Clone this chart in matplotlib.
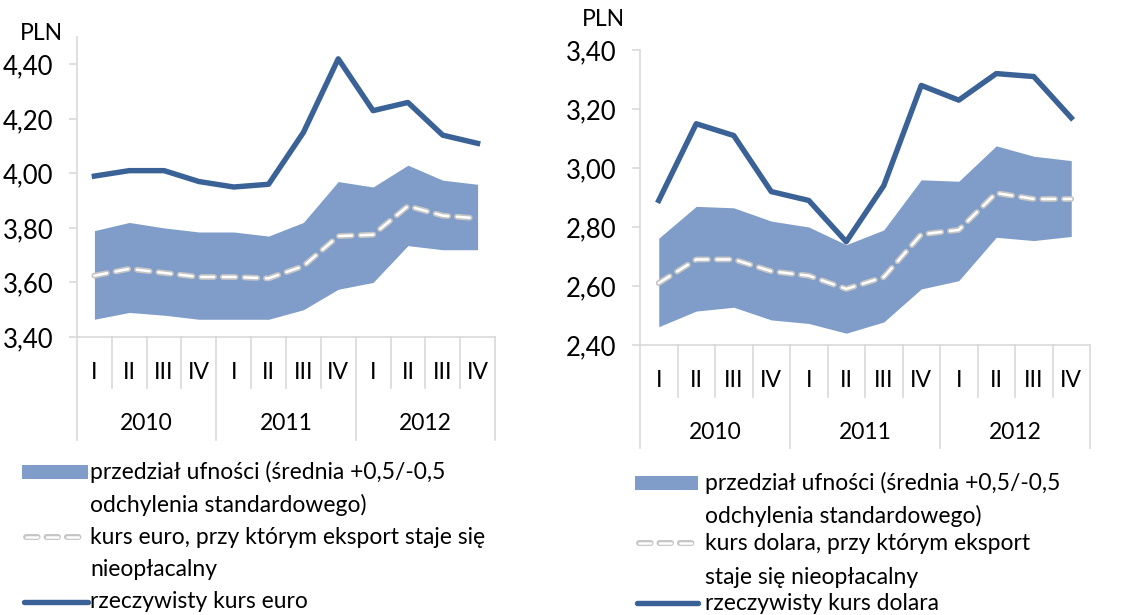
import numpy as np
import matplotlib.pyplot as plt
from matplotlib.patches import Rectangle
from matplotlib.lines import Line2D

plt.rcParams['font.family'] = ['Lato', 'DejaVu Sans']

quarters = ['I', 'II', 'III', 'IV'] * 3
years = ['2010', '2011', '2012']

# euro
eur_actual = [3.99, 4.01, 4.01, 3.97, 3.95, 3.96, 4.15, 4.42, 4.23, 4.26, 4.14, 4.11]
eur_upper = [3.79, 3.82, 3.80, 3.785, 3.785, 3.77, 3.82, 3.97, 3.95, 4.03, 3.975, 3.96]
eur_lower = [3.465, 3.49, 3.48, 3.465, 3.465, 3.465, 3.50, 3.575, 3.60, 3.735, 3.72, 3.72]
eur_break = [3.625, 3.65, 3.635, 3.62, 3.62, 3.615, 3.66, 3.77, 3.775, 3.88, 3.845, 3.835]

# dollar
usd_actual = [2.89, 3.15, 3.11, 2.92, 2.89, 2.75, 2.94, 3.28, 3.23, 3.32, 3.31, 3.17]
usd_upper = [2.762, 2.87, 2.865, 2.82, 2.80, 2.74, 2.79, 2.96, 2.955, 3.075, 3.04, 3.025]
usd_lower = [2.462, 2.515, 2.528, 2.485, 2.473, 2.44, 2.478, 2.59, 2.618, 2.765, 2.754, 2.768]
usd_break = [2.61, 2.69, 2.69, 2.65, 2.635, 2.59, 2.63, 2.775, 2.79, 2.915, 2.895, 2.895]

band_col = '#7f9dc8'
line_col = '#3a6296'
gray_col = '#c4c4c4'
axis_col = '#d9d9d9'
fs = 16.5
tfs = 18.5

fig = plt.figure(figsize=(11.23, 6.15), dpi=100)


def dashed(ax_or_fig, x, y, **kw):
    # grey outlined white dashes
    ax_or_fig.plot(x, y, color=gray_col, lw=4.2, dashes=(2.2, 1.5), dash_capstyle='round', **kw)
    ax_or_fig.plot(x, y, color='white', lw=1.8, dashes=(2.2 * 4.2 / 1.8, 1.5 * 4.2 / 1.8),
                   dash_capstyle='round', **kw)


def draw(ax, actual, upper, lower, brk, ylim, yticks, qy, yy, qsep, ysep):
    x = np.arange(len(actual))
    ax.fill_between(x, lower, upper, color=band_col, lw=0)
    dashed(ax, x, brk)
    ax.plot(x, actual, color=line_col, lw=3.9)
    ax.set_xlim(-0.5, 11.5)
    ax.set_ylim(*ylim)
    ax.set_yticks(yticks)
    ax.set_yticklabels([('%.2f' % v).replace('.', ',') for v in yticks], fontsize=tfs)
    ax.set_xticks([])
    for s in ['top', 'right']:
        ax.spines[s].set_visible(False)
    for s in ['left', 'bottom']:
        ax.spines[s].set_color(axis_col)
        ax.spines[s].set_linewidth(1.2)
    ax.tick_params(axis='y', colors=axis_col, labelcolor='black', length=6, width=1.2, pad=11)
    tr = ax.get_xaxis_transform()
    for i in range(13):
        bottom = ysep if i % 4 == 0 else qsep
        ax.plot([i - 0.5, i - 0.5], [0, bottom], color=axis_col, lw=1.2,
                transform=tr, clip_on=False)
    for i, q in enumerate(quarters):
        ax.text(i, qy, q, transform=tr, ha='center', va='center', fontsize=fs)
    for j, yr in enumerate(years):
        ax.text(j * 4 + 1.5, yy, yr, transform=tr, ha='center', va='center', fontsize=fs)


ax1 = fig.add_axes([77 / 1123, 1 - 337 / 615, 418 / 1123, 300 / 615])
draw(ax1, eur_actual, eur_upper, eur_lower, eur_break, (3.4, 4.5),
     [3.4, 3.6, 3.8, 4.0, 4.2, 4.4], -0.117, -0.287, -0.17, -0.343)
fig.text(20 / 1123, 1 - 34 / 615, 'PLN', fontsize=fs, va='center', ha='left')

ax2 = fig.add_axes([640 / 1123, 1 - 345 / 615, 450 / 1123, 295 / 615])
draw(ax2, usd_actual, usd_upper, usd_lower, usd_break, (2.4, 3.4),
     [2.4, 2.6, 2.8, 3.0, 3.2, 3.4], -0.119, -0.295, -0.176, -0.349)
fig.text(582 / 1123, 1 - 20 / 615, 'PLN', fontsize=fs, va='center', ha='left')


def fx(px):
    return px / 1123


def fy(py):
    return 1 - py / 615


def legend(x0, x1, xt, rows, labels):
    fig.patches.append(Rectangle((fx(x0), fy(rows[0] + 7)), fx(x1 - x0), 14 / 615,
                                 transform=fig.transFigure, color=band_col, lw=0))
    xs = [fx(x0 + 4), fx(x1 - 4)]
    fig.lines.append(Line2D(xs, [fy(rows[2])] * 2, transform=fig.transFigure,
                            color=gray_col, lw=4.2, dashes=(2.0, 1.5), dash_capstyle='round'))
    fig.lines.append(Line2D(xs, [fy(rows[2])] * 2, transform=fig.transFigure,
                            color='white', lw=1.8, dashes=(2.0 * 4.2 / 1.8, 1.5 * 4.2 / 1.8),
                            dash_capstyle='round'))
    fig.lines.append(Line2D([fx(x0 + 2), fx(x1)], [fy(rows[4])] * 2, transform=fig.transFigure,
                            color=line_col, lw=3.9, solid_capstyle='round'))
    for r, lab in zip(rows, labels):
        fig.text(fx(xt), fy(r), lab, fontsize=fs, va='center', ha='left')


legend(22, 88, 90, [472, 505, 537, 570, 602],
       ['przedział ufności (średnia +0,5/-0,5', 'odchylenia standardowego)',
        'kurs euro, przy którym eksport staje się', 'nieopłacalny', 'rzeczywisty kurs euro'])
legend(635, 698, 705, [483, 516, 543, 577, 603],
       ['przedział ufności (średnia +0,5/-0,5', 'odchylenia standardowego)',
        'kurs dolara, przy którym eksport', 'staje się nieopłacalny', 'rzeczywisty kurs dolara'])

fig.savefig('out.png', dpi=100)
